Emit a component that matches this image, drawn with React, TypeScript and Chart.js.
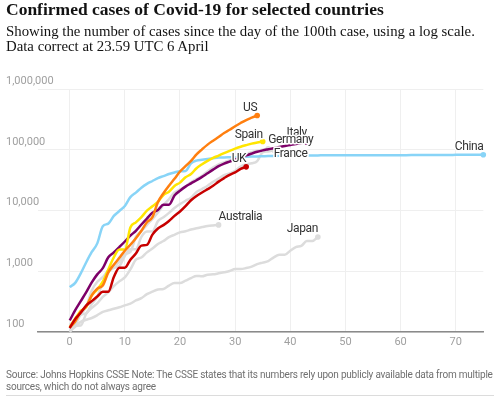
import React, { useEffect, useRef } from 'react';
import { Chart, registerables } from 'chart.js';

Chart.register(...registerables);

// ---- data (cases since day of 100th case) ----
const xTicks = [0, 10, 20, 30, 40, 50, 60, 70];
const yTicks = [100, 1000, 10000, 100000, 1000000];
const yTickLabels = ['100', '1,000', '10,000', '100,000', '1,000,000'];

const countries = ['UK', 'US', 'Spain', 'Italy', 'China', 'Germany', 'France', 'Australia', 'Japan'];

const ukCases = [116, 164, 207, 274, 322, 384, 459, 459, 802, 1144, 1145, 1551, 1960, 2642, 2716, 4014, 5067, 5741, 6726, 8164, 9640, 11812, 14745, 17312, 19780, 22453, 25481, 29865, 34173, 38689, 42477, 48436, 52279];
const usCases = [118, 149, 217, 262, 402, 518, 583, 959, 1281, 1663, 2179, 2727, 3499, 4632, 6421, 7783, 13747, 19273, 25600, 33276, 43847, 53740, 65778, 83836, 101657, 121465, 140909, 161831, 188172, 213242, 243622, 275367, 308650, 336802, 366317];
const spainCases = [120, 165, 222, 259, 400, 500, 673, 1073, 1695, 2277, 2277, 5232, 6391, 7798, 9942, 11748, 13910, 17963, 20410, 25374, 28768, 35136, 39885, 49515, 57786, 65719, 73235, 80110, 87956, 95923, 104118, 112065, 119199, 126168, 131646, 136675];
const italyCases = [155, 229, 322, 453, 655, 888, 1128, 1694, 2036, 2502, 3089, 3858, 4636, 5883, 7375, 9172, 10149, 12462, 12462, 17660, 21157, 24747, 27980, 31506, 35713, 41035, 47021, 53578, 59138, 63927, 69176, 74386, 80589, 86498, 92472, 97689, 101739, 105792, 110574, 115242, 119827, 124632, 128948, 132547];
const chinaCases = [548, 643, 920, 1406, 2075, 2877, 5509, 6087, 8141, 9802, 11891, 16630, 19716, 23707, 27440, 30587, 34110, 36814, 39829, 42354, 44386, 44759, 59895, 66358, 68413, 70513, 72434, 74211, 74619, 75077, 75550, 77001, 77022, 77241, 77754, 78166, 78600, 78928, 79356, 79932, 80136, 80261, 80386, 80537, 80690, 80770, 80823, 80860, 80887, 80921, 80932, 80945, 80977, 81003, 81033, 81058, 81102, 81156, 81250, 81305, 81435, 81498, 81591, 81661, 81782, 81897, 81999, 82122, 82198, 82279, 82361, 82432, 82511, 82543, 82602, 82665];
const germanyCases = [130, 159, 196, 262, 482, 670, 799, 1040, 1176, 1457, 1908, 2078, 3675, 4585, 5795, 7272, 9257, 12327, 15320, 19848, 22213, 24873, 29056, 32986, 37323, 43938, 50871, 57695, 62095, 66885, 71808, 77872, 84794, 91159, 96092, 100123, 103374];
const franceCases = [100, 130, 191, 204, 288, 380, 656, 959, 1136, 1219, 1794, 2293, 2293, 3681, 4496, 4532, 6683, 7715, 9124, 10970, 12758, 14463, 16243, 20123, 22622, 25600, 29551, 33402, 38105, 40708, 45170, 52827, 57749, 59929, 65202, 90848, 93773, 98963];
const australiaCases = [112, 127, 128, 200, 250, 297, 377, 452, 568, 681, 791, 1071, 1549, 1682, 2044, 2364, 2810, 3143, 3640, 3984, 4361, 4559, 4862, 5116, 5330, 5550, 5687, 5797];
const japanCases = [105, 122, 147, 159, 170, 189, 214, 228, 241, 256, 274, 293, 331, 360, 420, 461, 502, 511, 581, 639, 639, 701, 773, 839, 825, 878, 889, 924, 963, 1007, 1086, 1086, 1128, 1193, 1307, 1387, 1468, 1693, 1866, 1866, 2178, 2495, 2617, 3139, 3139, 3654];

const series = [ukCases, usCases, spainCases, italyCases, chinaCases, germanyCases, franceCases, australiaCases, japanCases];

// ---- styles ----
const GREY = '#dcdcdc';
const colors = ['#c70000', '#ff7f0f', '#ffe500', '#7d0068', '#88d4f7', GREY, GREY, GREY, GREY];
const labelAlign: Record<string, { align: CanvasTextAlign; dy: number }> = {
  UK: { align: 'right', dy: -8 },
  US: { align: 'right', dy: -7.5 },
  Spain: { align: 'right', dy: -7 },
  Italy: { align: 'right', dy: -9 },
  China: { align: 'right', dy: -8 },
  Germany: { align: 'left', dy: -8.5 },
  France: { align: 'left', dy: 3.5 },
  Australia: { align: 'left', dy: -8 },
  Japan: { align: 'right', dy: -8 },
};

const yLabelPlugin = {
  id: 'yLabels',
  afterDraw(chart: any) {
    const { ctx } = chart;
    const ys = chart.scales.y;
    ctx.save();
    ctx.font = '11px Roboto';
    ctx.fillStyle = '#a0a0a0';
    ctx.textAlign = 'left';
    ctx.textBaseline = 'middle';
    yTicks.forEach((v, i) => {
      const py = ys.getPixelForValue(v);
      ctx.fillText(yTickLabels[i], 6, py - 8);
    });
    ctx.restore();
  },
};

const seriesLabelPlugin = {
  id: 'seriesLabels',
  afterDatasetsDraw(chart: any) {
    const { ctx } = chart;
    const xs = chart.scales.x;
    const ys = chart.scales.y;
    ctx.save();
    ctx.font = '12px Roboto';
    try { (ctx as any).letterSpacing = '-0.4px'; } catch (e) {}
    ctx.textBaseline = 'middle';
    ctx.lineJoin = 'round';
    countries.forEach((name, i) => {
      const data = series[i];
      const last = data.length - 1;
      const px = xs.getPixelForValue(last);
      const py = ys.getPixelForValue(data[last]);
      const cfg = labelAlign[name];
      ctx.textAlign = cfg.align;
      ctx.strokeStyle = '#ffffff';
      ctx.lineWidth = 3;
      ctx.strokeText(name, px, py + cfg.dy);
      ctx.fillStyle = '#333333';
      ctx.fillText(name, px, py + cfg.dy);
    });
    ctx.restore();
  },
};

export default function App() {
  const canvasRef = useRef<HTMLCanvasElement | null>(null);

  useEffect(() => {
    if (!canvasRef.current) return;
    Chart.defaults.font.family = 'Roboto';
    const chart = new Chart(canvasRef.current, {
      type: 'line',
      data: {
        datasets: countries.map((name, i) => ({
          label: name,
          data: series[i].map((v, d) => ({ x: d, y: v })),
          borderColor: colors[i],
          backgroundColor: colors[i],
          borderWidth: 2.5,
          pointRadius: series[i].map((_, d) => (d === series[i].length - 1 ? 2.8 : 0)),
          pointBorderWidth: 0,
          pointHoverRadius: 0,
          cubicInterpolationMode: 'monotone' as const,
          fill: false,
          clip: false as any,
        })),
      },
      options: {
        responsive: false,
        animation: false,
        events: [],
        layout: { padding: { left: 38, right: 16.7, top: 89, bottom: 44 } },
        plugins: { legend: { display: false }, tooltip: { enabled: false } },
        scales: {
          x: {
            type: 'linear',
            min: -5.75,
            max: 75,
            afterBuildTicks: (s: any) => { s.ticks = xTicks.map((v) => ({ value: v })); },
            afterFit: (s: any) => { s.height = 20; },
            grid: { color: '#efefef', lineWidth: 1, drawTicks: false },
            border: { display: true, color: '#8a8a8a', width: 1.5 },
            ticks: { color: '#a0a0a0', font: { size: 11, family: 'Roboto' }, padding: 4, maxRotation: 0 },
          },
          y: {
            type: 'logarithmic',
            min: 100,
            max: 1000000,
            afterBuildTicks: (s: any) => { s.ticks = yTicks.map((v) => ({ value: v })); },
            afterFit: (s: any) => { s.width = 0; },
            grid: { color: '#efefef', lineWidth: 1, drawTicks: false },
            border: { display: false },
            ticks: { display: false },
          },
        },
      },
      plugins: [yLabelPlugin, seriesLabelPlugin],
    } as any);
    return () => chart.destroy();
  }, []);

  return (
    <div style={{ position: 'absolute', left: 0, top: 0, width: 500, height: 396, background: '#fff', overflow: 'hidden' }}>
      <canvas ref={canvasRef} width={500} height={396} style={{ position: 'absolute', left: 0, top: 0, width: 500, height: 396 }} />
      <div style={{ position: 'absolute', left: 6, top: -1, font: 'bold 17.5px "Liberation Serif"', lineHeight: '20px', color: '#121212', whiteSpace: 'nowrap' }}>
        Confirmed cases of Covid-19 for selected countries
      </div>
      <div style={{ position: 'absolute', left: 6, top: 23.5, font: '14.8px "Liberation Serif"', lineHeight: '15px', color: '#121212', whiteSpace: 'nowrap' }}>
        Showing the number of cases since the day of the 100th case, using a log scale.
        <br />
        Data correct at 23.59 UTC 6 April
      </div>
      <div style={{ position: 'absolute', left: 6, top: 369, font: '10px Roboto', lineHeight: '11.5px', letterSpacing: '-0.22px', color: '#707070', whiteSpace: 'nowrap' }}>
        Source: Johns Hopkins CSSE Note: The CSSE states that its numbers rely upon publicly available data from multiple
        <br />
        sources, which do not always agree
      </div>
      <div style={{ position: 'absolute', left: 6, top: 395, width: 488, height: 1, background: '#dcdcdc' }} />
    </div>
  );
}
